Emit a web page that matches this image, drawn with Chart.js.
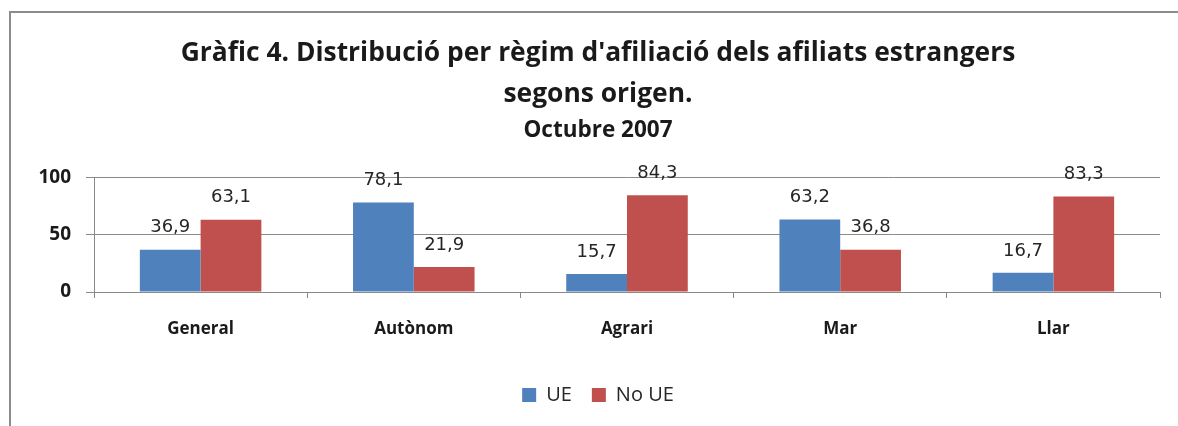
<!DOCTYPE html>
<html>
<head>
<meta charset="utf-8">
<script src="https://cdn.jsdelivr.net/npm/chart.js@4.4.1/dist/chart.umd.min.js"></script>
<style>
  html, body { margin: 0; padding: 0; background: #fff; }
  #wrap { position: relative; width: 1178px; height: 426px; overflow: hidden; }
  #frame { position: absolute; left: 9px; top: 11px; width: 1300px; height: 500px;
           border-top: 2px solid #8c8c8c; border-left: 2px solid #8c8c8c; box-sizing: border-box; pointer-events: none; }
  canvas { position: absolute; left: 0; top: 0; }
</style>
</head>
<body>
<div id="wrap">
  <canvas id="c" width="1178" height="426"></canvas>
  <div id="frame"></div>
</div>
<script>
const categories = ['General', 'Autònom', 'Agrari', 'Mar', 'Llar'];
const ueValues = [36.9, 78.1, 15.7, 63.2, 16.7];
const noUeValues = [63.1, 21.9, 84.3, 36.8, 83.3];
const yTicks = [0, 50, 100];
const seriesNames = ['UE', 'No UE'];
const titleLines = ["Gràfic 4. Distribució per règim d'afiliació dels afiliats estrangers", 'segons origen.'];
const subtitleText = 'Octubre 2007';

const FONT = "'Open Sans', 'DejaVu Sans', sans-serif";

const valueLabels = {
  id: 'valueLabels',
  afterDatasetsDraw(chart) {
    const ctx = chart.ctx;
    ctx.save();
    ctx.font = "18px 'DejaVu Sans', sans-serif";
    ctx.fillStyle = '#262626';
    ctx.textAlign = 'center';
    ctx.textBaseline = 'middle';
    chart.data.datasets.forEach((ds, i) => {
      const meta = chart.getDatasetMeta(i);
      meta.data.forEach((bar, j) => {
        const txt = ds.data[j].toFixed(1).replace('.', ',');
        ctx.fillText(txt, bar.x, bar.y - 22);
      });
    });
    ctx.restore();
  }
};

new Chart(document.getElementById('c'), {
  type: 'bar',
  data: {
    labels: categories,
    datasets: [
      { label: seriesNames[0], data: ueValues, backgroundColor: '#4F81BD' },
      { label: seriesNames[1], data: noUeValues, backgroundColor: '#C0504D' }
    ]
  },
  options: {
    responsive: false,
    animation: false,
    devicePixelRatio: 1,
    layout: { padding: { left: 18, right: 0, top: 0, bottom: 11 } },
    datasets: { bar: { categoryPercentage: 0.57, barPercentage: 1.0 } },
    plugins: {
      title: {
        display: true,
        text: titleLines,
        color: '#1a1a1a',
        font: { family: FONT, size: 26.4, weight: 'bold', lineHeight: 1.56 },
        padding: { top: 33, bottom: 2 }
      },
      subtitle: {
        display: true,
        text: subtitleText,
        color: '#1a1a1a',
        font: { family: FONT, size: 22.5, weight: 'bold', lineHeight: 1.2 },
        padding: { top: 0, bottom: 33 }
      },
      legend: {
        position: 'bottom',
        labels: {
          boxWidth: 14, boxHeight: 14, padding: 20,
          color: '#262626',
          font: { family: FONT, size: 20 }
        }
      },
      tooltip: { enabled: false }
    },
    scales: {
      x: {
        offset: true,
        grid: { display: true, drawOnChartArea: false, drawTicks: true, tickLength: 6, color: '#888', offset: true },
        border: { display: true, color: '#888', width: 1 },
        ticks: { color: '#1a1a1a', padding: 21, font: { family: FONT, size: 17, weight: 'bold' } },
        afterFit(s) { s.height = 73; }
      },
      y: {
        min: 0, max: 100,
        afterBuildTicks(s) { s.ticks = yTicks.map(v => ({ value: v })); },
        grid: { color: '#8a8a8a', tickLength: 8, lineWidth: 1 },
        border: { display: true, color: '#888' },
        ticks: { color: '#1a1a1a', padding: 15, font: { family: FONT, size: 19, weight: 'bold' } },
        afterFit(s) { s.width = 76; }
      },
      yRight: {
        position: 'right',
        display: true,
        min: 0, max: 100,
        grid: { display: false, drawOnChartArea: false, drawTicks: false },
        border: { display: false },
        ticks: { display: false },
        afterFit(s) { s.width = 18; }
      }
    }
  },
  plugins: [valueLabels]
});
</script>
</body>
</html>
